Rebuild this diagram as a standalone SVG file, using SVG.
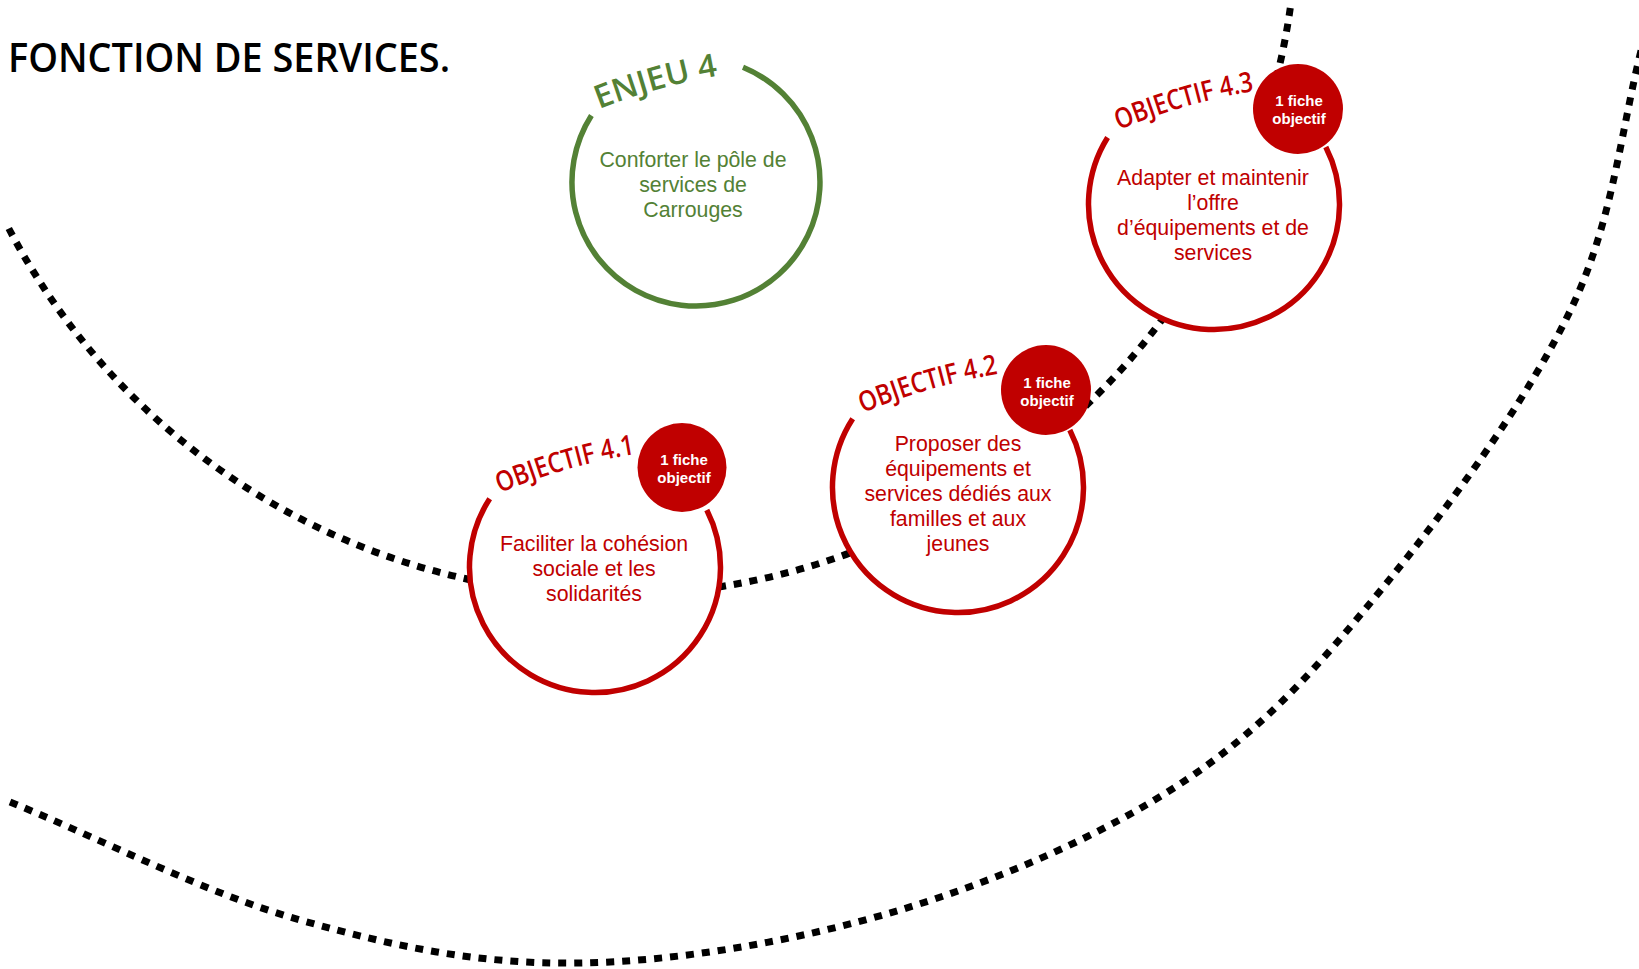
<svg xmlns="http://www.w3.org/2000/svg" width="1639" height="969" viewBox="0 0 1639 969">
<style>
  .dot { fill: none; stroke: #000; stroke-width: 7; stroke-dasharray: 8 8; }
  .disc { fill: #fff; stroke: none; }
  .ring-r { fill: none; stroke: #C00000; stroke-width: 5.5; }
  .ring-g { fill: none; stroke: #538135; stroke-width: 5.5; }
  .badge { fill: #C00000; }
  .body-r { font-family: "Liberation Sans", Arial, sans-serif; font-size: 21.3px; fill: #C00000; text-anchor: middle; }
  .body-g { font-family: "Liberation Sans", Arial, sans-serif; font-size: 21.3px; fill: #538135; text-anchor: middle; }
  .btxt { font-family: "Liberation Sans", Arial, sans-serif; font-size: 15px; font-weight: bold; fill: #fff; text-anchor: middle; }
  .lbl-r { font-family: "Open Sans", "Noto Sans", sans-serif; font-weight: 600; font-size: 28px; fill: #C00000; }
  .lbl-g { font-family: "Open Sans", "Noto Sans", sans-serif; font-weight: 600; font-size: 32px; fill: #538135; }
  .title { font-family: "Open Sans", "Noto Sans", sans-serif; font-weight: 600; font-size: 39px; fill: #000; }
</style>
<defs>
  <path id="p-enjeu" d="M 599 109 A 600 600 0 0 1 729 74"/>
  <path id="p-o41" d="M 500 493 A 600 600 0 0 1 649 452"/>
  <path id="p-o42" d="M 863 413 A 600 600 0 0 1 1012 372"/>
  <path id="p-o43" d="M 1119 130 A 600 600 0 0 1 1268 89"/>
</defs>
<rect width="1639" height="969" fill="#fff"/>

<text id="title" class="title" x="8" y="72" textLength="442" lengthAdjust="spacingAndGlyphs">FONCTION DE SERVICES.</text>

<g id="connectors">
  <path class="dot" d="M 8.8 228.5 A 683 683 0 0 0 1290.4 7.1"/>
  <path class="dot" d="M 10 802 C 106.7 841.3 205 893.2 300 920 C 395 946.8 480 964.7 580 963 C 680 961.3 799 940.5 900 910 C 1001 879.5 1105.2 834.2 1186 780 C 1266.8 725.8 1320.7 663.8 1385 585 C 1449.3 506.2 1528.7 398.7 1572 307 C 1615.3 215.3 1620.7 125.7 1645 35"/>
</g>

<g id="enjeu4">
  <circle class="disc" cx="696" cy="182" r="124"/>
  <path class="ring-g" d="M 743 67.3 A 124 124 0 1 1 591.4 115.4"/>
  <text class="lbl-g"><textPath href="#p-enjeu" textLength="124" lengthAdjust="spacingAndGlyphs">ENJEU 4</textPath></text>
  <text class="body-g" x="693" y="167">Conforter le pôle de</text>
  <text class="body-g" x="693" y="192">services de</text>
  <text class="body-g" x="693" y="217">Carrouges</text>
</g>

<g id="objectif41">
  <circle class="disc" cx="595" cy="567" r="125.5"/>
  <path class="ring-r" d="M 706.8 510 A 125.5 125.5 0 1 1 489.7 498.7"/>
  <text class="lbl-r"><textPath href="#p-o41" textLength="141" lengthAdjust="spacingAndGlyphs">OBJECTIF 4.1</textPath></text>
  <text class="body-r" x="594" y="551">Faciliter la cohésion</text>
  <text class="body-r" x="594" y="576">sociale et les</text>
  <text class="body-r" x="594" y="601">solidarités</text>
  <circle class="badge" cx="682" cy="467.5" r="44.5"/>
  <text class="btxt" x="684" y="465">1 fiche</text>
  <text class="btxt" x="684" y="483">objectif</text>
</g>

<g id="objectif42">
  <circle class="disc" cx="958" cy="487" r="125.5"/>
  <path class="ring-r" d="M 1069.8 430 A 125.5 125.5 0 1 1 852.7 418.7"/>
  <text class="lbl-r"><textPath href="#p-o42" textLength="141" lengthAdjust="spacingAndGlyphs">OBJECTIF 4.2</textPath></text>
  <text class="body-r" x="958" y="451">Proposer des</text>
  <text class="body-r" x="958" y="476">équipements et</text>
  <text class="body-r" x="958" y="501">services dédiés aux</text>
  <text class="body-r" x="958" y="526">familles et aux</text>
  <text class="body-r" x="958" y="551">jeunes</text>
  <circle class="badge" cx="1046" cy="390" r="45"/>
  <text class="btxt" x="1047" y="388">1 fiche</text>
  <text class="btxt" x="1047" y="406">objectif</text>
</g>

<g id="objectif43">
  <circle class="disc" cx="1214" cy="204" r="125.5"/>
  <path class="ring-r" d="M 1325.8 147 A 125.5 125.5 0 1 1 1107.6 137.5"/>
  <text class="lbl-r"><textPath href="#p-o43" textLength="141" lengthAdjust="spacingAndGlyphs">OBJECTIF 4.3</textPath></text>
  <text class="body-r" x="1213" y="185">Adapter et maintenir</text>
  <text class="body-r" x="1213" y="210">l’offre</text>
  <text class="body-r" x="1213" y="235">d’équipements et de</text>
  <text class="body-r" x="1213" y="260">services</text>
  <circle class="badge" cx="1298" cy="109" r="45"/>
  <text class="btxt" x="1299" y="106">1 fiche</text>
  <text class="btxt" x="1299" y="124">objectif</text>
</g>
</svg>
